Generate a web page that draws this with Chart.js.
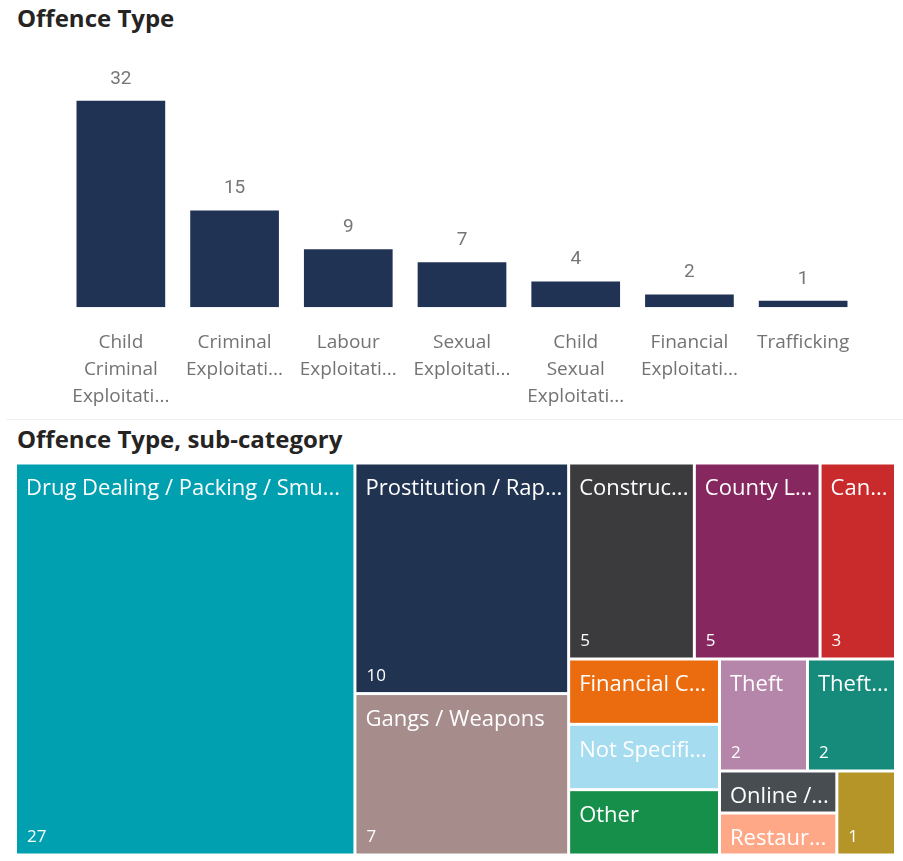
<!DOCTYPE html>
<html>
<head>
<meta charset="utf-8">
<script src="https://cdn.jsdelivr.net/npm/chart.js@4.4.1/dist/chart.umd.min.js"></script>
<style>
    html, body { margin: 0; padding: 0; background: #fff; }
    body { width: 903px; height: 861px; position: relative; overflow: hidden; font-family: 'Open Sans', sans-serif; }
    .visual-title { position: absolute; left: 17px; font-weight: 700; font-size: 24px; color: #252423; line-height: 24px; white-space: nowrap; }
    #title-type { top: 6px; }
    #title-sub { top: 427px; }
    .separator { position: absolute; left: 6px; right: 0; top: 419px; height: 1px; background: #f1f1f1; }
    #offenceTypeChart { position: absolute; left: 0; top: 0; }
    #subCategoryChart { position: absolute; left: 0; top: 455px; }
</style>
</head>
<body>
<div class="visual-title" id="title-type">Offence Type</div>
<canvas id="offenceTypeChart" width="903" height="418"></canvas>
<div class="separator"></div>
<div class="visual-title" id="title-sub">Offence Type, sub-category</div>
<canvas id="subCategoryChart" width="903" height="406"></canvas>
<script>
    // offence type counts (bar chart)
    const offenceTypes = ['Child Criminal Exploitation', 'Criminal Exploitation', 'Labour Exploitation',
        'Sexual Exploitation', 'Child Sexual Exploitation', 'Financial Exploitation', 'Trafficking'];
    const offenceCounts = [32, 15, 9, 7, 4, 2, 1];
    const offenceTickLabels = [
        ['Child', 'Criminal', 'Exploitati...'],
        ['Criminal', 'Exploitati...'],
        ['Labour', 'Exploitati...'],
        ['Sexual', 'Exploitati...'],
        ['Child', 'Sexual', 'Exploitati...'],
        ['Financial', 'Exploitati...'],
        ['Trafficking']
    ];

    // sub-category counts (treemap), labels as shown in the visual
    const subCategories = ['Drug Dealing / Packing / Smu...', 'Prostitution / Rap...', 'Gangs / Weapons',
        'Construc...', 'County L...', 'Can...', 'Financial C...', 'Not Specifi...', 'Other',
        'Theft', 'Theft...', 'Online /...', 'Restaur...', ''];
    const subCounts = [27, 10, 7, 5, 5, 3, 2, 2, 2, 2, 2, 1, 1, 1];
    const subColours = ['#01a0b1', '#203350', '#a68c8b', '#3b3b3d', '#86275f', '#c92a2b', '#eb6c0f',
        '#a6dcf0', '#158f4a', '#b585aa', '#168a7b', '#474d51', '#ffa887', '#b59428'];

    const barValueLabels = {
        id: 'barValueLabels',
        afterDatasetsDraw(chart) {
            const ctx = chart.ctx;
            const meta = chart.getDatasetMeta(0);
            ctx.save();
            ctx.font = '19px Roboto';
            ctx.fillStyle = '#767676';
            ctx.textAlign = 'center';
            ctx.textBaseline = 'middle';
            meta.data.forEach(function (bar, i) {
                ctx.fillText(String(offenceCounts[i]), bar.x, bar.y - 22);
            });
            ctx.restore();
        }
    };

    new Chart(document.getElementById('offenceTypeChart'), {
        type: 'bar',
        data: {
            labels: offenceTypes,
            datasets: [{
                data: offenceCounts,
                backgroundColor: '#203354',
                barPercentage: 0.78,
                categoryPercentage: 1
            }]
        },
        options: {
            responsive: false,
            animation: false,
            layout: { padding: { top: 81.5, left: 64, right: 43, bottom: 10.7 } },
            plugins: { legend: { display: false }, tooltip: { enabled: false } },
            scales: {
                x: {
                    grid: { display: false, drawTicks: false },
                    border: { display: false },
                    ticks: {
                        color: '#737373',
                        font: { family: 'Open Sans', size: 19, lineHeight: 1.41 },
                        padding: 22,
                        maxRotation: 0,
                        minRotation: 0,
                        autoSkip: false,
                        callback: function (value, index) {
                            return offenceTickLabels[index];
                        }
                    },
                    afterFit: function (scale) {
                        scale.height = 100;
                    }
                },
                y: { display: false, min: 0, max: 35 }
            }
        },
        plugins: [barValueLabels]
    });

    // squarified layout (golden ratio), same rule as d3.treemapSquarify
    function squarify(values, x0, y0, x1, y1) {
        const ratio = (1 + Math.sqrt(5)) / 2;
        const cells = [];
        const n = values.length;
        let value = values.reduce(function (a, b) { return a + b; }, 0);
        let i0 = 0, i1 = 0;
        while (i0 < n) {
            const dx = x1 - x0, dy = y1 - y0;
            let sumValue = values[i1++];
            let minValue = sumValue, maxValue = sumValue;
            const alpha = Math.max(dy / dx, dx / dy) / (value * ratio);
            let beta = sumValue * sumValue * alpha;
            let minRatio = Math.max(maxValue / beta, beta / minValue);
            for (; i1 < n; ++i1) {
                const v = values[i1];
                sumValue += v;
                if (v < minValue) minValue = v;
                if (v > maxValue) maxValue = v;
                beta = sumValue * sumValue * alpha;
                const newRatio = Math.max(maxValue / beta, beta / minValue);
                if (newRatio > minRatio) { sumValue -= v; break; }
                minRatio = newRatio;
            }
            if (dx < dy) {
                const yEnd = y0 + dy * sumValue / value;
                let x = x0;
                for (let i = i0; i < i1; i++) {
                    const w = dx * values[i] / sumValue;
                    cells[i] = { x0: x, y0: y0, x1: x + w, y1: yEnd };
                    x += w;
                }
                y0 = yEnd;
            } else {
                const xEnd = x0 + dx * sumValue / value;
                let y = y0;
                for (let i = i0; i < i1; i++) {
                    const h = dy * values[i] / sumValue;
                    cells[i] = { x0: x0, y0: y, x1: xEnd, y1: y + h };
                    y += h;
                }
                x0 = xEnd;
            }
            value -= sumValue;
            i0 = i1;
        }
        return cells;
    }

    function fitText(ctx, text, maxW) {
        if (ctx.measureText(text).width <= maxW) return text;
        let base = text.replace(/\.\.\.$/, '');
        while (base.length && ctx.measureText(base + '...').width > maxW) {
            base = base.slice(0, -1);
        }
        return base.length ? base + '...' : '';
    }

    const treemapCells = {
        id: 'treemapCells',
        afterDraw(chart) {
            const ctx = chart.ctx;
            const xs = chart.scales.x, ys = chart.scales.y;
            const area = chart.chartArea;
            const w = area.right - area.left, h = area.bottom - area.top;
            const cells = squarify(subCounts, 0, 0, w, h);
            const gap = 1.5;
            ctx.save();
            cells.forEach(function (c, i) {
                const left = xs.getPixelForValue(c.x0 / w) + gap;
                const right = xs.getPixelForValue(c.x1 / w) - gap;
                const top = ys.getPixelForValue(c.y0 / h) + gap;
                const bottom = ys.getPixelForValue(c.y1 / h) - gap;
                ctx.fillStyle = subColours[i];
                ctx.fillRect(left, top, right - left, bottom - top);

                ctx.fillStyle = '#ffffff';
                ctx.textAlign = 'left';
                ctx.textBaseline = 'middle';
                if (right - left >= 60 && subCategories[i]) {
                    ctx.font = '22px "Open Sans"';
                    ctx.fillText(fitText(ctx, subCategories[i], right - left - 8), left + 9, top + 24.5);
                }
                if (bottom - top >= 75) {
                    ctx.font = '17px "Open Sans"';
                    ctx.fillText(String(subCounts[i]), left + 10, bottom - 16);
                }
            });
            ctx.restore();
        }
    };

    new Chart(document.getElementById('subCategoryChart'), {
        type: 'scatter',
        data: { datasets: [] },
        options: {
            responsive: false,
            animation: false,
            layout: { padding: { left: 15.5, right: 7.5, top: 8, bottom: 6 } },
            plugins: { legend: { display: false }, tooltip: { enabled: false } },
            scales: {
                x: { display: false, min: 0, max: 1 },
                y: { display: false, min: 0, max: 1, reverse: true }
            }
        },
        plugins: [treemapCells]
    });
</script>
</body>
</html>
